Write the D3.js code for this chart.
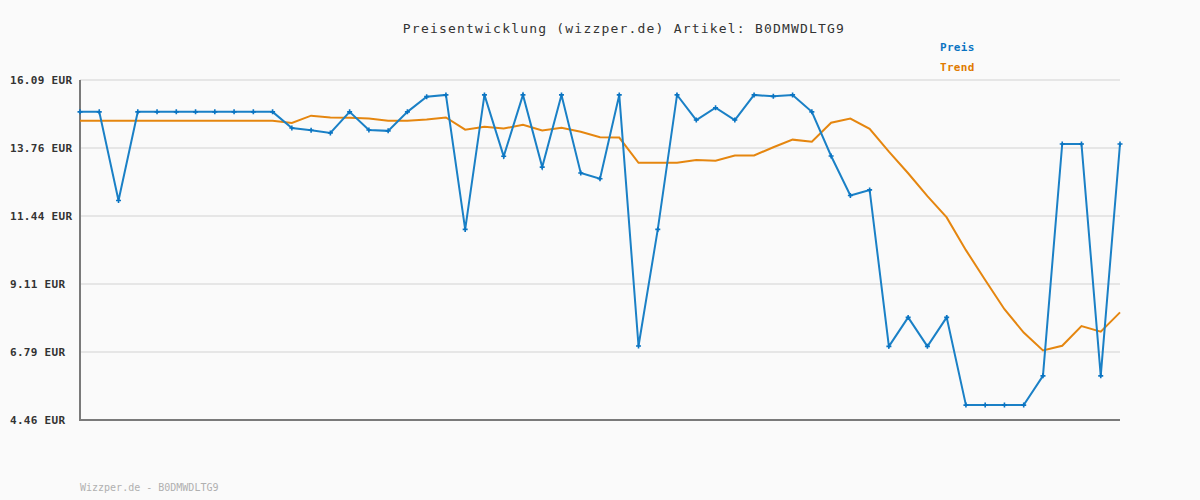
<!DOCTYPE html>
<html>
<head>
<meta charset="utf-8">
<style>
  body { margin: 0; background: #fafafa; }
  svg { display: block; }
  .title { font: 13px "DejaVu Sans Mono", monospace; fill: #333; letter-spacing: 1.2px; }
  .ytick text { font: bold 11px "DejaVu Sans Mono", monospace; fill: #333; letter-spacing: 0.3px; }
  .legend { font: bold 11px "DejaVu Sans Mono", monospace; letter-spacing: 0.3px; }
  .footer { font: 10px "DejaVu Sans Mono", monospace; fill: #b0b0b0; }
</style>
</head>
<body>
<svg width="1200" height="500"></svg>
<script src="https://d3js.org/d3.v7.min.js"></script>
<script>

// data, one entry per sample
var points = d3.range(1, 56);

var preis = [
  15.00, 15.00, 11.97, 15.00, 15.00, 15.00, 15.00, 15.00, 15.00, 15.00,
  15.00, 14.45, 14.37, 14.28, 15.00, 14.38, 14.35, 15.00, 15.52, 15.58,
  10.98, 15.58, 13.48, 15.58, 13.11, 15.58, 12.91, 12.71, 15.58, 6.99,
  10.98, 15.58, 14.72, 15.14, 14.72, 15.58, 15.53, 15.58, 15.00, 13.49,
  12.14, 12.33, 6.98, 7.97, 6.98, 7.97, 4.97, 4.97, 4.97, 4.97,
  5.97, 13.90, 13.90, 5.97, 13.90
];

var trend = [
  14.70, 14.70, 14.70, 14.70, 14.70, 14.70, 14.70, 14.70, 14.70, 14.70,
  14.70, 14.62, 14.87, 14.81, 14.80, 14.77, 14.70, 14.70, 14.74, 14.81,
  14.39, 14.49, 14.43, 14.56, 14.36, 14.46, 14.32, 14.13, 14.12, 13.26,
  13.26, 13.26, 13.35, 13.33, 13.51, 13.51, 13.79, 14.05, 13.98, 14.63,
  14.77, 14.42, 13.64, 12.90, 12.12, 11.39, 10.27, 9.25, 8.25, 7.45,
  6.84, 7.00, 7.67, 7.48, 8.14
];

var yTicks = [4.46, 6.79, 9.11, 11.44, 13.76, 16.09];

var svg = d3.select("svg");

var x = d3.scalePoint().domain(points).range([80, 1120]);
var y = d3.scaleLinear().domain([4.46, 16.09]).range([420, 80]);

svg.append("text")
  .attr("class", "title")
  .attr("x", 624)
  .attr("y", 33)
  .attr("text-anchor", "middle")
  .text("Preisentwicklung (wizzper.de) Artikel: B0DMWDLTG9");

// grid + labels
var ticks = svg.append("g").selectAll(".ytick")
  .data(yTicks)
  .enter().append("g")
  .attr("class", "ytick")
  .attr("transform", function(d) { return "translate(0," + y(d) + ")"; });

ticks.append("line")
  .attr("x1", 80).attr("x2", 1120)
  .attr("stroke", "#e6e6e6")
  .attr("stroke-width", 2);

ticks.append("text")
  .attr("x", 10)
  .attr("dy", "0.35em")
  .text(function(d) { return d.toFixed(2) + " EUR"; });

// axes lines
svg.append("line")
  .attr("x1", 80).attr("x2", 80)
  .attr("y1", y(16.09)).attr("y2", y(4.46) + 1)
  .attr("stroke", "#7a7a7a").attr("stroke-width", 2);
svg.append("line")
  .attr("x1", 79).attr("x2", 1120)
  .attr("y1", y(4.46)).attr("y2", y(4.46))
  .attr("stroke", "#7a7a7a").attr("stroke-width", 2);

var line = d3.line()
  .x(function(d, i) { return x(points[i]); })
  .y(function(d) { return y(d); });

svg.append("path")
  .datum(trend)
  .attr("fill", "none")
  .attr("stroke", "#e5860f")
  .attr("stroke-width", 2)
  .attr("d", line);

svg.append("path")
  .datum(preis)
  .attr("fill", "none")
  .attr("stroke", "#1a80c6")
  .attr("stroke-width", 2)
  .attr("d", line);

// little plus markers on the price points
svg.append("g").selectAll("path.mark")
  .data(preis)
  .enter().append("path")
  .attr("class", "mark")
  .attr("transform", function(d, i) { return "translate(" + x(points[i]) + "," + y(d) + ")"; })
  .attr("d", "M-2.5,0H2.5M0,-2.5V2.5")
  .attr("stroke", "#0a74c2")
  .attr("stroke-width", 1.6);

// legend
svg.append("text").attr("class", "legend")
  .attr("x", 940).attr("y", 51)
  .attr("fill", "#0a74c2")
  .text("Preis");
svg.append("text").attr("class", "legend")
  .attr("x", 940).attr("y", 71)
  .attr("fill", "#e07b00")
  .text("Trend");

svg.append("text")
  .attr("class", "footer")
  .attr("x", 80)
  .attr("y", 491)
  .text("Wizzper.de - B0DMWDLTG9");

</script>
</body>
</html>
